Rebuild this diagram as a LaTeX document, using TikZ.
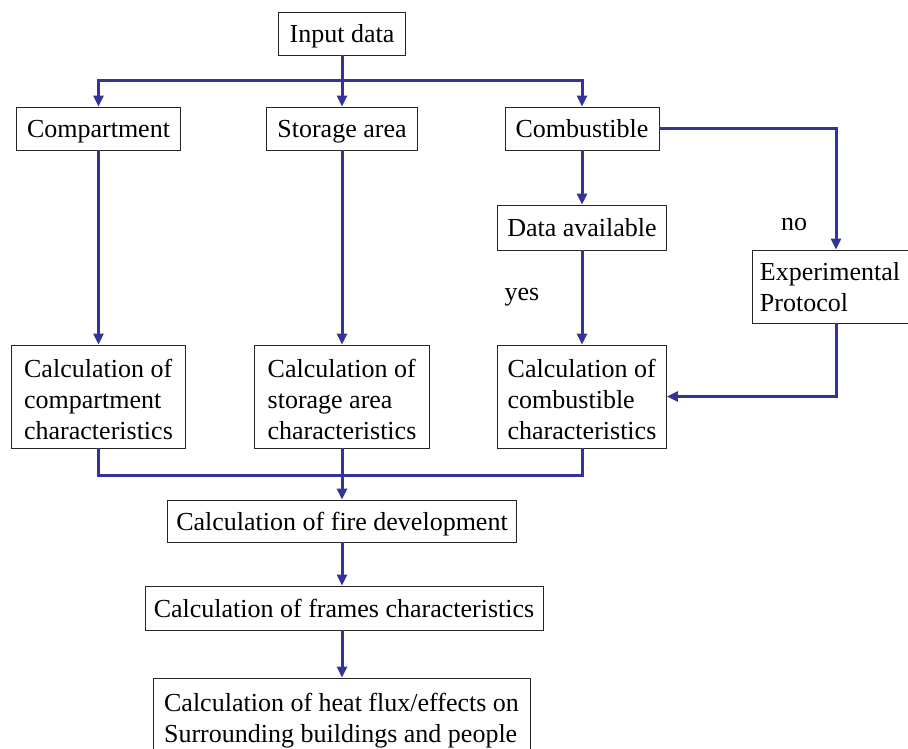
\documentclass[tikz,border=0pt]{standalone}
\usepackage{fontspec}
\setmainfont{Liberation Serif}
\usetikzlibrary{arrows.meta}
\definecolor{flow}{RGB}{51,51,153}
\begin{document}
\begin{tikzpicture}[x=1pt,y=-1pt,
 box/.style={draw=black!85,line width=0.9pt,inner sep=0pt,font=\fontsize{26}{31}\selectfont,align=left},
 one/.style={text height=22pt,text depth=4pt},
 two/.style={text height=53pt,text depth=4pt},
 three/.style={text height=89pt,text depth=4pt},
 lbl/.style={inner sep=0pt,font=\fontsize{26}{31}\selectfont},
 conn/.style={draw=flow,line width=3pt},
 arr/.style={conn,-{Triangle[length=11pt,width=10pt]}}]
\useasboundingbox (0,0) rectangle (908,749);
\node[box,one,minimum width=127,minimum height=43] (in) at (342,33.5) {Input data};
\node[box,one,minimum width=164,minimum height=43] (comp) at (98.5,128.5) {Compartment};
\node[box,one,minimum width=151,minimum height=43] (stor) at (342,128.5) {Storage area};
\node[box,one,minimum width=154,minimum height=43] (comb) at (582,128.5) {Combustible};
\node[box,one,minimum width=169,minimum height=45] (data) at (582,227.5) {Data available};
\node[box,two,minimum width=156,minimum height=73] (exp) at (830,286.5) {Experimental\\Protocol};
\node[box,three,minimum width=174,minimum height=103] (calca) at (98.5,396.5) {Calculation of\\compartment\\characteristics};
\node[box,three,minimum width=175,minimum height=103] (calcs) at (342,396.5) {Calculation of\\storage area\\characteristics};
\node[box,three,minimum width=169,minimum height=103] (calcb) at (582,396.5) {Calculation of\\combustible\\characteristics};
\node[box,one,minimum width=349,minimum height=42] (fire) at (342,521) {Calculation of fire development};
\node[box,one,minimum width=398,minimum height=44] (frames) at (344,608) {Calculation of frames characteristics};
\node[box,two,text height=58pt,minimum width=377,minimum height=74] (heat) at (341.5,715) {Calculation of heat flux/effects on\\Surrounding buildings and people};
\node[lbl] (no) at (794,225) {no};
\node[lbl] (yes) at (522,297) {yes};
\coordinate (split) at (342,81);
\coordinate (merge) at (342,475);
\draw[conn] (in.south) -- (split);
\draw[arr] (split) -| (comp.north);
\draw[arr] (split) -- (stor.north);
\draw[arr] (split) -| (comb.north);
\draw[arr] (comb.east) -| ([xshift=6pt]exp.north);
\draw[arr] (comb.south) -- (data.north);
\draw[arr] (data.south) -- (calcb.north);
\draw[arr] ([xshift=6pt]exp.south) |- (calcb.east);
\draw[arr] (comp.south) -- (calca.north);
\draw[arr] (stor.south) -- (calcs.north);
\draw[conn] (calca.south) |- (merge);
\draw[conn] (calcb.south) |- (merge);
\draw[arr] (calcs.south) -- (fire.north);
\draw[arr] (fire.south) -- (fire.south |- frames.north);
\draw[arr] (fire.south |- frames.south) -- (fire.south |- heat.north);
\end{tikzpicture}
\end{document}
